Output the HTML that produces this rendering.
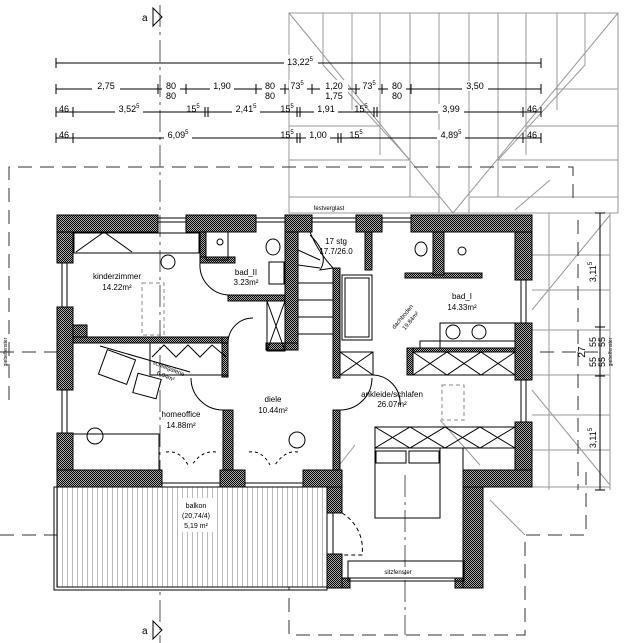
<!DOCTYPE html>
<html><head><meta charset="utf-8"><style>
html,body{margin:0;padding:0;background:#fff;}
svg{display:block;font-family:"Liberation Sans",sans-serif;}
</style></head><body>
<svg width="629" height="643" viewBox="0 0 629 643" xmlns="http://www.w3.org/2000/svg">
<defs>
<pattern id="h" width="2" height="2" patternUnits="userSpaceOnUse">
<rect width="2" height="2" fill="#aaa"/><rect width="1" height="1" fill="#000"/><rect x="1" y="1" width="1" height="1" fill="#000"/>
</pattern>
<pattern id="bal" width="5" height="5" patternUnits="userSpaceOnUse">
<rect width="5" height="5" fill="#fff"/><line x1="2.5" y1="0" x2="2.5" y2="5" stroke="#bbb" stroke-width="1"/>
</pattern>
</defs>

<!-- roof grey -->
<g stroke="#999" stroke-width="1" fill="none">
<rect x="289" y="13" width="329" height="200"/>
<line x1="323" y1="13" x2="323" y2="65"/><line x1="352" y1="13" x2="352" y2="110"/><line x1="380" y1="13" x2="380" y2="155"/>
<line x1="410" y1="13" x2="410" y2="197"/><line x1="439" y1="13" x2="439" y2="213"/><line x1="469" y1="13" x2="469" y2="213"/>
<line x1="498" y1="13" x2="498" y2="197"/><line x1="526" y1="13" x2="526" y2="155"/><line x1="557" y1="13" x2="557" y2="110"/><line x1="585" y1="13" x2="585" y2="65"/>
<line x1="289" y1="13" x2="453" y2="213"/><line x1="618" y1="13" x2="453" y2="213"/>
<line x1="323" y1="65" x2="410" y2="160"/><line x1="585" y1="65" x2="498" y2="160"/>
<line x1="289" y1="126" x2="380" y2="126"/><line x1="526" y1="126" x2="618" y2="126"/>
<line x1="289" y1="160" x2="410" y2="160"/><line x1="498" y1="160" x2="618" y2="160"/>
<line x1="289" y1="197" x2="440" y2="197"/><line x1="470" y1="197" x2="618" y2="197"/>
<line x1="555" y1="89" x2="618" y2="89"/><line x1="289" y1="89" x2="352" y2="89"/>
<line x1="549" y1="213" x2="549" y2="490"/><line x1="610" y1="213" x2="610" y2="490"/>
<line x1="532" y1="213" x2="610" y2="213"/><line x1="532" y1="255" x2="610" y2="255"/><line x1="532" y1="290" x2="610" y2="290"/>
<line x1="532" y1="330" x2="610" y2="330"/><line x1="532" y1="375" x2="610" y2="375"/><line x1="532" y1="415" x2="610" y2="415"/>
<line x1="532" y1="450" x2="610" y2="450"/><line x1="532" y1="487" x2="610" y2="487"/>
<line x1="532" y1="310" x2="610" y2="215"/><line x1="532" y1="390" x2="610" y2="485"/>
<line x1="515" y1="210" x2="550" y2="180"/>
</g>

<!-- dashed eaves -->
<g stroke="#333" stroke-width="1" fill="none" stroke-dasharray="14,8">
<polyline points="9,400 9,167 573,167 573,205"/>
<line x1="0" y1="352" x2="60" y2="352"/>
<line x1="540" y1="352" x2="600" y2="352"/>
<polyline points="0,535 289,535 289,635 525,635 525,535 586,535 586,472"/>
<line x1="578" y1="220" x2="578" y2="490"/>
</g>
<g stroke="#555" stroke-width="1" fill="none" stroke-dasharray="22,5,3,5">
<line x1="160" y1="5" x2="160" y2="643"/>
<line x1="405" y1="475" x2="405" y2="635"/>
</g>
<g stroke="#999" stroke-width="1">
<line x1="289" y1="535" x2="330" y2="487"/><line x1="525" y1="535" x2="490" y2="500"/>
<line x1="312" y1="500" x2="355" y2="445"/><line x1="480" y1="465" x2="440" y2="420"/>
</g>

<g stroke="#000" fill="none" stroke-width="1">
<polygon points="153,8 153,26 162,17"/>
<polygon points="153,621 153,639 162,630"/>
</g>
<text x="142" y="21" font-size="10">a</text>
<text x="142" y="634" font-size="10">a</text>

<g stroke="#000" stroke-width="1">
<line x1="56" y1="63" x2="541" y2="63"/>
<line x1="56" y1="89" x2="541" y2="89"/>
<line x1="56" y1="112" x2="541" y2="112"/>
<line x1="56" y1="138" x2="541" y2="138"/>
<g>
<line x1="56" y1="58" x2="56" y2="68"/><line x1="541" y1="58" x2="541" y2="68"/>
<line x1="56" y1="84" x2="56" y2="94"/><line x1="158" y1="84" x2="158" y2="94"/><line x1="186" y1="84" x2="186" y2="94"/><line x1="256" y1="84" x2="256" y2="94"/><line x1="285" y1="84" x2="285" y2="94"/><line x1="312" y1="84" x2="312" y2="94"/><line x1="356" y1="84" x2="356" y2="94"/><line x1="382" y1="84" x2="382" y2="94"/><line x1="411" y1="84" x2="411" y2="94"/><line x1="541" y1="84" x2="541" y2="94"/>
<line x1="56" y1="107" x2="56" y2="117"/><line x1="73" y1="107" x2="73" y2="117"/><line x1="205" y1="107" x2="205" y2="117"/><line x1="208" y1="107" x2="208" y2="117"/><line x1="297" y1="107" x2="297" y2="117"/><line x1="300" y1="107" x2="300" y2="117"/><line x1="374" y1="107" x2="374" y2="117"/><line x1="377" y1="107" x2="377" y2="117"/><line x1="523" y1="107" x2="523" y2="117"/><line x1="541" y1="107" x2="541" y2="117"/>
<line x1="56" y1="133" x2="56" y2="143"/><line x1="73" y1="133" x2="73" y2="143"/><line x1="297" y1="133" x2="297" y2="143"/><line x1="300" y1="133" x2="300" y2="143"/><line x1="338" y1="133" x2="338" y2="143"/><line x1="341" y1="133" x2="341" y2="143"/><line x1="523" y1="133" x2="523" y2="143"/><line x1="541" y1="133" x2="541" y2="143"/>
</g>
<line x1="600" y1="213" x2="600" y2="490"/>
<line x1="595" y1="213" x2="605" y2="213"/><line x1="595" y1="327" x2="605" y2="327"/><line x1="595" y1="376" x2="605" y2="376"/><line x1="595" y1="490" x2="605" y2="490"/>
</g>
<g font-size="9" text-anchor="middle">
<g fill="#fff"><rect x="284" y="55" width="34" height="10"/><rect x="92" y="81" width="28" height="10"/><rect x="162" y="80" width="18" height="20"/><rect x="210" y="81" width="24" height="10"/><rect x="262" y="80" width="18" height="20"/><rect x="289" y="80" width="18" height="10"/><rect x="320" y="80" width="28" height="20"/><rect x="360" y="80" width="18" height="10"/><rect x="388" y="80" width="18" height="20"/><rect x="462" y="81" width="26" height="10"/>
<rect x="115" y="104" width="28" height="10"/><rect x="232" y="104" width="28" height="10"/><rect x="314" y="104" width="24" height="10"/><rect x="438" y="104" width="26" height="10"/>
<rect x="164" y="130" width="28" height="10"/><rect x="306" y="130" width="24" height="10"/><rect x="437" y="130" width="28" height="10"/></g>
<text x="300" y="65">13,22<tspan font-size="6" dy="-4">5</tspan></text>
<text x="106" y="89">2,75</text><text x="171" y="89">80</text><text x="171" y="99">80</text>
<text x="222" y="89">1,90</text><text x="270" y="89">80</text><text x="270" y="99">80</text>
<text x="297" y="89">73<tspan font-size="6" dy="-4">5</tspan></text>
<text x="334" y="89">1,20</text><text x="334" y="99">1,75</text>
<text x="369" y="89">73<tspan font-size="6" dy="-4">5</tspan></text>
<text x="397" y="89">80</text><text x="397" y="99">80</text><text x="475" y="89">3,50</text>
<text x="64" y="112">46</text><text x="129" y="112">3,52<tspan font-size="6" dy="-4">5</tspan></text>
<text x="193" y="112">15<tspan font-size="6" dy="-4">5</tspan></text>
<text x="246" y="112">2,41<tspan font-size="6" dy="-4">5</tspan></text>
<text x="287" y="112">15<tspan font-size="6" dy="-4">5</tspan></text>
<text x="326" y="112">1,91</text>
<text x="361" y="112">15<tspan font-size="6" dy="-4">5</tspan></text>
<text x="451" y="112">3,99</text><text x="532" y="112">46</text>
<text x="64" y="138">46</text><text x="178" y="138">6,09<tspan font-size="6" dy="-4">5</tspan></text>
<text x="287" y="138">15<tspan font-size="6" dy="-4">5</tspan></text>
<text x="318" y="138">1,00</text>
<text x="356" y="138">15<tspan font-size="6" dy="-4">5</tspan></text>
<text x="451" y="138">4,89<tspan font-size="6" dy="-4">5</tspan></text><text x="532" y="138">46</text>
<text transform="translate(596,272) rotate(-90)">3,11<tspan font-size="6" dy="-4">5</tspan></text>
<text transform="translate(596,438) rotate(-90)">3,11<tspan font-size="6" dy="-4">5</tspan></text>
<text transform="translate(585,352) rotate(-90)" font-size="10">27</text>
<text transform="translate(596,342) rotate(-90)">55</text><text transform="translate(605,342) rotate(-90)">55</text>
<text transform="translate(596,362) rotate(-90)">55</text><text transform="translate(605,362) rotate(-90)">55</text>
<text transform="translate(612,352) rotate(-90)" font-size="5">giebelfenster</text>
<text transform="translate(7,352) rotate(-90)" font-size="5">giebelfenster</text>
</g>

<rect x="57" y="487" width="270" height="100" fill="url(#bal)" stroke="#000"/>
<rect x="54" y="487" width="273" height="103" fill="none" stroke="#000"/>
<rect x="180" y="498" width="33" height="34" fill="#fff"/>

<g fill="none" stroke="#000" stroke-width="1">
<line x1="57" y1="218" x2="532" y2="218"/><line x1="57" y1="222" x2="532" y2="222"/>
<line x1="62" y1="215" x2="62" y2="487"/><line x1="67" y1="215" x2="67" y2="487"/>
<line x1="521" y1="215" x2="521" y2="487"/><line x1="526" y1="215" x2="526" y2="487"/>
<line x1="161" y1="483" x2="303" y2="483"/>
<line x1="342" y1="578" x2="465" y2="578"/>
<line x1="333" y1="513" x2="333" y2="554"/>
</g>

<g fill="url(#h)" stroke="#000" stroke-width="1">
<rect x="57" y="215" width="101" height="17"/><rect x="186" y="215" width="70" height="17"/><rect x="285" y="215" width="27" height="17"/><rect x="356" y="215" width="26" height="17"/><rect x="411" y="215" width="121" height="17"/>
<rect x="57" y="232" width="16" height="31"/><rect x="57" y="307" width="16" height="83"/><rect x="57" y="433" width="16" height="37"/>
<rect x="515" y="232" width="17" height="48"/><rect x="515" y="323" width="17" height="57"/><rect x="515" y="422" width="17" height="48"/>
<rect x="57" y="470" width="105" height="17"/><rect x="220" y="470" width="25" height="17"/><rect x="303" y="470" width="39" height="17"/>
<rect x="327" y="487" width="15" height="26"/><rect x="327" y="554" width="15" height="34"/>
<rect x="342" y="578" width="8" height="10"/><rect x="463" y="470" width="69" height="17"/>
<rect x="463" y="487" width="20" height="101"/><rect x="455" y="578" width="8" height="10"/>
<rect x="73" y="337" width="155" height="6"/><rect x="222" y="337" width="6" height="40"/>
<rect x="200" y="232" width="6" height="31"/><rect x="200" y="257" width="35" height="6"/>
<rect x="228" y="295" width="70" height="6"/><rect x="285" y="232" width="13" height="118"/>
<rect x="266" y="343" width="32" height="7"/>
<rect x="333" y="268" width="7" height="110"/><rect x="365" y="232" width="7" height="38"/>
<rect x="405" y="273" width="77" height="5"/><rect x="433" y="232" width="11" height="43"/>
<rect x="407" y="348" width="108" height="4"/><rect x="407" y="348" width="6" height="27"/>
<rect x="73" y="325" width="14" height="12"/>
<rect x="223" y="410" width="10" height="60"/><rect x="333" y="410" width="7" height="60"/>
</g>

<g fill="none" stroke="#000" stroke-width="1">
<rect x="74" y="233" width="125" height="20"/>
<polyline points="76,252 104,232 132,252"/>
<rect x="206" y="232" width="22" height="28"/><circle cx="220" cy="242" r="3"/>
<ellipse cx="273" cy="247" rx="7" ry="8"/><rect x="269" y="262" width="15" height="22"/>
<circle cx="168" cy="262" r="7"/>
<circle cx="95" cy="436" r="8"/><rect x="73" y="434" width="86" height="36"/>
<circle cx="297" cy="440" r="8"/>
<rect x="150" y="343" width="78" height="32"/>
<polyline points="152,357 164,345 176,357 188,345 200,357 212,345 226,357"/>
<rect x="102" y="354" width="30" height="26" transform="rotate(20 117 367)"/>
<rect x="135" y="376" width="24" height="20" transform="rotate(15 147 386)"/>
<line x1="100" y1="346" x2="190" y2="372"/>
<rect x="342" y="275" width="30" height="65"/><rect x="345" y="278" width="24" height="59"/>
<line x1="298" y1="232" x2="298" y2="350"/>
<path d="M310 235 Q330 255 320 270 L333 268 M298 283 L333 283 M298 300 L333 300 M298 317 L333 317 M298 334 L333 334"/>
<path d="M333 268 Q318 252 310 232 M298 250 L320 260 M298 265 L320 268"/>
<rect x="340" y="352" width="33" height="23"/><path d="M340 352 L373 375 M373 352 L340 375"/>
<rect x="267" y="301" width="18" height="50"/><path d="M267 301 L285 351 M285 301 L267 351"/>
<ellipse cx="421" cy="249" rx="6" ry="7"/><circle cx="462" cy="251" r="4"/>
<rect x="440" y="323" width="75" height="25"/><rect x="420" y="341" width="95" height="7"/>
<circle cx="453" cy="332" r="7"/><circle cx="479" cy="332" r="7"/>
<rect x="413" y="352" width="102" height="23"/>
<path d="M413 352 L447 375 L481 352 L515 375 M413 375 L447 352 L481 375 L515 352"/>
<rect x="375" y="427" width="140" height="21"/>
<path d="M375 427 L410 448 L445 427 L480 448 L515 427 M375 448 L410 427 L445 448 L480 427 L515 448"/>
<rect x="375" y="448" width="65" height="70"/><rect x="376" y="451" width="30" height="12"/><rect x="409" y="451" width="30" height="12"/>
<rect x="463" y="448" width="52" height="22"/>
<rect x="348" y="561" width="116" height="20"/>
<path d="M228 343 A25 25 0 0 1 253 318 M200 263 A30 30 0 0 0 228 295 M191 378 A32 32 0 0 0 223 410 M372 378 A32 32 0 0 1 340 410 M372 375 A28 28 0 0 1 400 405"/>
<path d="M342 513 A42 42 0 0 1 362 555 L342 555" stroke-dasharray="4,3"/>
<path d="M166 452 Q180 450 188 465 M216 452 Q202 450 192 465 M249 452 Q262 450 270 465 M298 452 Q285 450 275 465" stroke-dasharray="3,3"/>
</g>
<g fill="none" stroke="#888" stroke-dasharray="4,3">
<rect x="142" y="283" width="22" height="52"/><rect x="442" y="385" width="22" height="35"/>
</g>

<g font-size="8" text-anchor="middle" fill="#000">
<text x="329" y="210" font-size="6">festverglast</text>
<text x="117" y="279">kinderzimmer</text><text x="117" y="290">14.22m²</text>
<text x="246" y="275">bad_II</text><text x="246" y="285">3.23m²</text>
<text x="336" y="244">17 stg</text><text x="336" y="254">17.7/26.0</text>
<text x="462" y="299">bad_I</text><text x="462" y="310">14.33m²</text>
<text transform="translate(404,318) rotate(-50)" font-size="6">dachboden</text>
<text transform="translate(412,322) rotate(-50)" font-size="6">19.84m²</text>
<text transform="translate(168,370) rotate(22)" font-size="6">schlafgalerie</text>
<text transform="translate(165,378) rotate(22)" font-size="6">6.04m²</text>
<text x="273" y="402">diele</text><text x="273" y="413">10.44m²</text>
<text x="181" y="417">homeoffice</text><text x="181" y="428">14.88m²</text>
<text x="392" y="397">ankleide/schlafen</text><text x="392" y="407">26.07m²</text>
<text x="196" y="508" font-size="7">balkon</text><text x="196" y="518" font-size="7">(20,74/4)</text><text x="196" y="528" font-size="7">5,19 m²</text>
<text x="398" y="574" font-size="6">sitzfenster</text>
</g>
</svg>
</body></html>
